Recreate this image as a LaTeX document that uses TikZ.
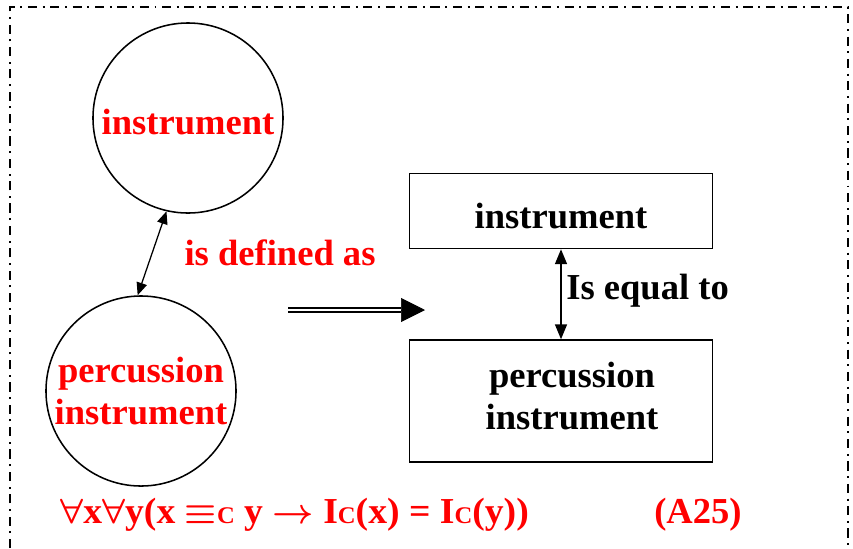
\documentclass[tikz,border=0pt]{standalone}
\usepackage{fontspec}
\setmainfont{Liberation Serif}
\usetikzlibrary{arrows.meta}
\newcommand{\smc}{{\fontsize{17}{17}\selectfont C}}
\tikzset{
  circ/.style={draw,circle,line width=1.1pt,minimum size=4.75cm,inner sep=0pt,align=center,text=red},
  rbox/.style={draw,rectangle,line width=1.1pt,minimum width=7.575cm,inner sep=0pt,align=center},
  lab/.style={inner sep=0pt},
  dar/.style={{Triangle[length=9pt,width=7.5pt]}-{Triangle[length=9pt,width=7.5pt]},line width=0.9pt},
  var/.style={{Triangle[length=10.5pt,width=8.5pt]}-{Triangle[length=10.5pt,width=8.5pt]},line width=0.9pt},
}
\begin{document}
\begin{tikzpicture}[x=0.025cm,y=-0.025cm,every node/.style={font=\fontsize{26}{30}\selectfont\bfseries}]
\useasboundingbox (0,0) rectangle (853,548);
% frame
\draw[line width=0.8pt,dash pattern=on 6.5pt off 4pt on 1.4pt off 4pt]
  (10,548) -- (10,7) -- (848,7) -- (848,548);
% circles
\node[circ,text height=23.4pt] (inst) at (188,118) {instrument};
\node[circ] (perc) at (141,391) {percussion\\instrument};
\draw[dar] (inst.257) -- (perc.92);
\node[lab,text=red] (def) at (280,253) {is defined as};
% big arrow
\coordinate (dA) at (288,310);
\coordinate (dB) at (401,310);
\coordinate (dC) at (425,310);
\draw[double,double distance=2pt,line width=1.3pt] (dA) -- (dB);
\draw[-{Triangle[length=0.6cm,width=0.6cm]},line width=0.5pt] (dB) -- (dC);
% boxes
\node[rbox,minimum height=1.875cm,text height=24.8pt] (binst) at (561,211) {instrument};
\node[rbox,minimum height=3.05cm] (bperc) at (561,401) {};
\node[lab,align=center] (tperc) at (572,396) {percussion\\instrument};
\draw[var] (binst.south) -- (bperc.north);
\node[lab,anchor=west] (eq) at (566,291) {Is equal to};
% axiom
\node[lab,anchor=west,text=red] (ax) at (60,515)
  {\scalebox{1.03}[1]{\boldmath$\forall$x$\forall$y(x $\equiv$\smc{} y $\rightarrow$ I\smc(x) = I\smc(y))}};
\node[lab,anchor=west,text=red] (num) at (654,515) {(A25)};
\end{tikzpicture}
\end{document}
